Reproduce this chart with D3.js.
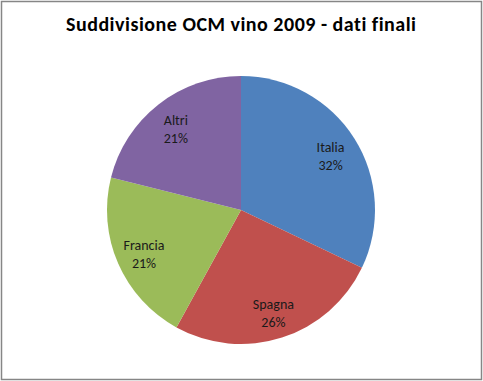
<!DOCTYPE html>
<html>
<head>
<meta charset="utf-8">
<script src="https://cdn.jsdelivr.net/npm/d3@7"></script>
<style>
  body { margin: 0; background: #fff; }
  svg { display: block; }
  text { font-family: Calibri, Carlito, Lato, "Open Sans", sans-serif; font-variant-ligatures: none; }
</style>
</head>
<body>
<svg id="chart" width="483" height="381"></svg>
<script>
// valori (quota %)
const categorie = ["Italia", "Spagna", "Francia", "Altri"];
const valori = [32.1, 25.9, 20.9, 21.1];
const colori = ["#4F81BD", "#C0504D", "#9BBB59", "#8064A2"];
const titolo = "Suddivisione OCM vino 2009 - dati finali";

const svg = d3.select("#chart");
const width = 483, height = 381;

// cornice
svg.append("rect")
  .attr("x", 1.5).attr("y", 1.5)
  .attr("width", width - 3).attr("height", height - 3)
  .attr("fill", "#fff")
  .attr("stroke", "#868686")
  .attr("stroke-width", 1.5);

svg.append("text")
  .attr("x", 241).attr("y", 31)
  .attr("text-anchor", "middle")
  .attr("textLength", 350)
  .attr("lengthAdjust", "spacing")
  .style("font-size", "20px")
  .style("font-weight", "bold")
  .attr("fill", "#000")
  .text(titolo);

const cx = 241, cy = 210, R = 134;

const dati = categorie.map((c, i) => ({ nome: c, valore: valori[i], colore: colori[i] }));
const totale = d3.sum(valori);

const pie = d3.pie().sort(null).value(d => d.valore);
const arc = d3.arc().innerRadius(0).outerRadius(R);
const arcLabel = d3.arc().innerRadius(R * 0.79).outerRadius(R * 0.79);

const g = svg.append("g").attr("transform", `translate(${cx},${cy})`);

const archi = pie(dati);

g.selectAll("path")
  .data(archi)
  .enter().append("path")
  .attr("d", arc)
  .attr("fill", d => d.data.colore);

const etichette = g.selectAll(".label")
  .data(archi)
  .enter().append("text")
  .attr("class", "label")
  .attr("transform", d => "translate(" + arcLabel.centroid(d) + ")")
  .attr("text-anchor", "middle")
  .style("font-size", "14px")
  .attr("fill", "#1a1a1a");

etichette.append("tspan")
  .attr("x", 0).attr("y", -2)
  .text(d => d.data.nome);
etichette.append("tspan")
  .attr("x", 0).attr("y", 16)
  .text(d => Math.round(d.data.valore / totale * 100) + "%");
</script>
</body>
</html>
